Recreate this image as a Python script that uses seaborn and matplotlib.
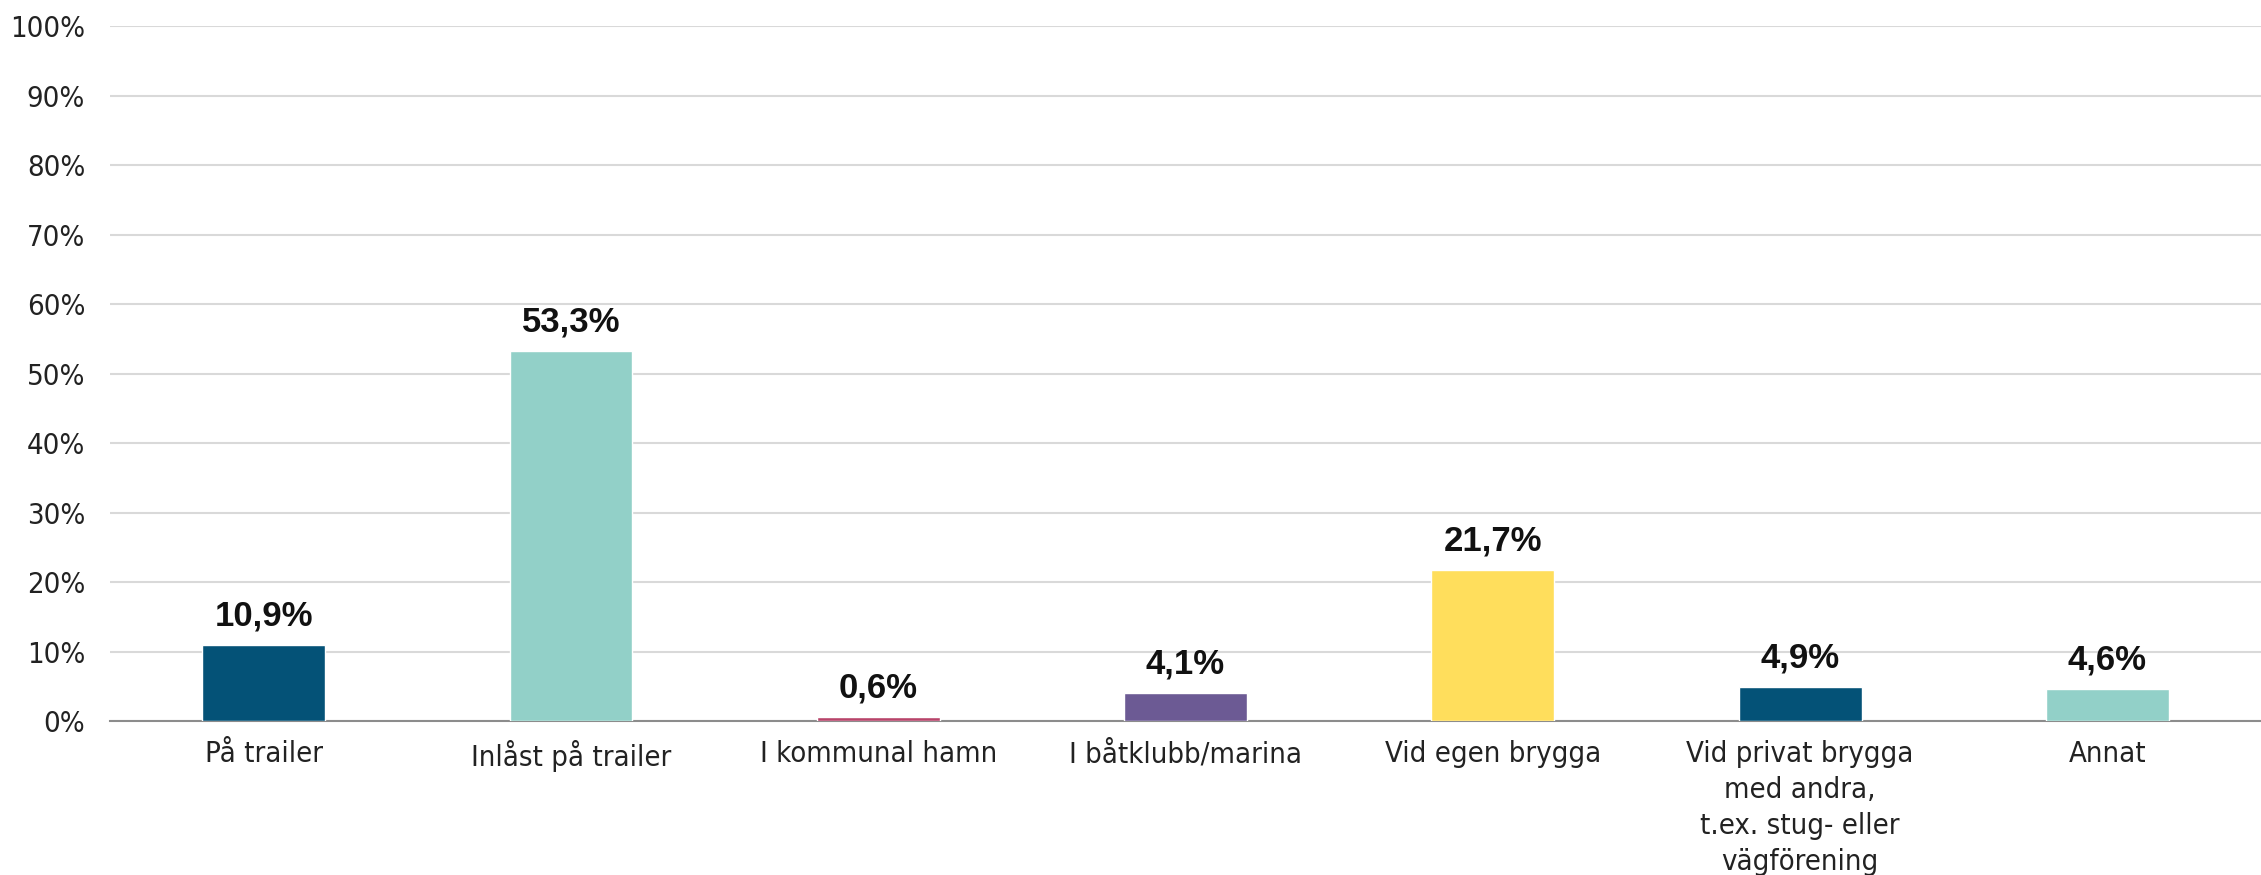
import seaborn as sns
import matplotlib.pyplot as plt
import pandas as pd

categories = [
    "På trailer",
    "Inlåst på trailer",
    "I kommunal hamn",
    "I båtklubb/marina",
    "Vid egen brygga",
    "Vid privat brygga\nmed andra,\nt.ex. stug- eller\nvägförening",
    "Annat",
]
values = [10.9, 53.3, 0.6, 4.1, 21.7, 4.9, 4.6]
labels = ["10,9%", "53,3%", "0,6%", "4,1%", "21,7%", "4,9%", "4,6%"]
colors = ["#045277", "#92D0C8", "#B8446A", "#6C5A94", "#FFDE5C", "#045277", "#92D0C8"]
yticks = [0, 10, 20, 30, 40, 50, 60, 70, 80, 90, 100]

df = pd.DataFrame({"Kategori": categories, "Andel": values})

sns.set_style("white")
plt.rcParams["font.family"] = ["DejaVu Sans"]
plt.rcParams["font.stretch"] = "condensed"

fig = plt.figure(figsize=(22.61, 8.75), dpi=100)
ax = fig.add_axes([0.0487, 0.176, 0.9513, 0.794])

sns.barplot(x="Kategori", y="Andel", hue="Kategori", data=df,
            palette=colors, saturation=1, legend=False, width=0.4, ax=ax, zorder=3)

# value labels above bars
for i, (v, lab) in enumerate(zip(values, labels)):
    ax.annotate(lab, (i, v), xytext=(0, 14), textcoords="offset points",
                ha="center", va="baseline", fontsize=25, fontweight="bold",
                family=["Liberation Sans", "DejaVu Sans"], fontstretch="normal",
                color="#111111")

ax.set_ylim(0, 100)
ax.set_xlim(-0.5, len(categories) - 0.5)
ax.set_yticks(yticks)
ax.set_yticklabels([f"{t}%" for t in yticks], fontsize=21, color="#222222")
ax.tick_params(axis="y", length=0, pad=18)
ax.tick_params(axis="x", length=0, pad=14, labelsize=21, labelcolor="#222222")
for t in ax.get_xticklabels():
    t.set_linespacing(1.35)
ax.yaxis.grid(True, color="#D9D9D9", linewidth=1.5, zorder=0)
ax.set_xlabel("")
ax.set_ylabel("")

for s in ["top", "right", "left"]:
    ax.spines[s].set_visible(False)
ax.spines["bottom"].set_color("#8C8C8C")
ax.spines["bottom"].set_linewidth(1.5)

fig.savefig("out.png", dpi=100)
